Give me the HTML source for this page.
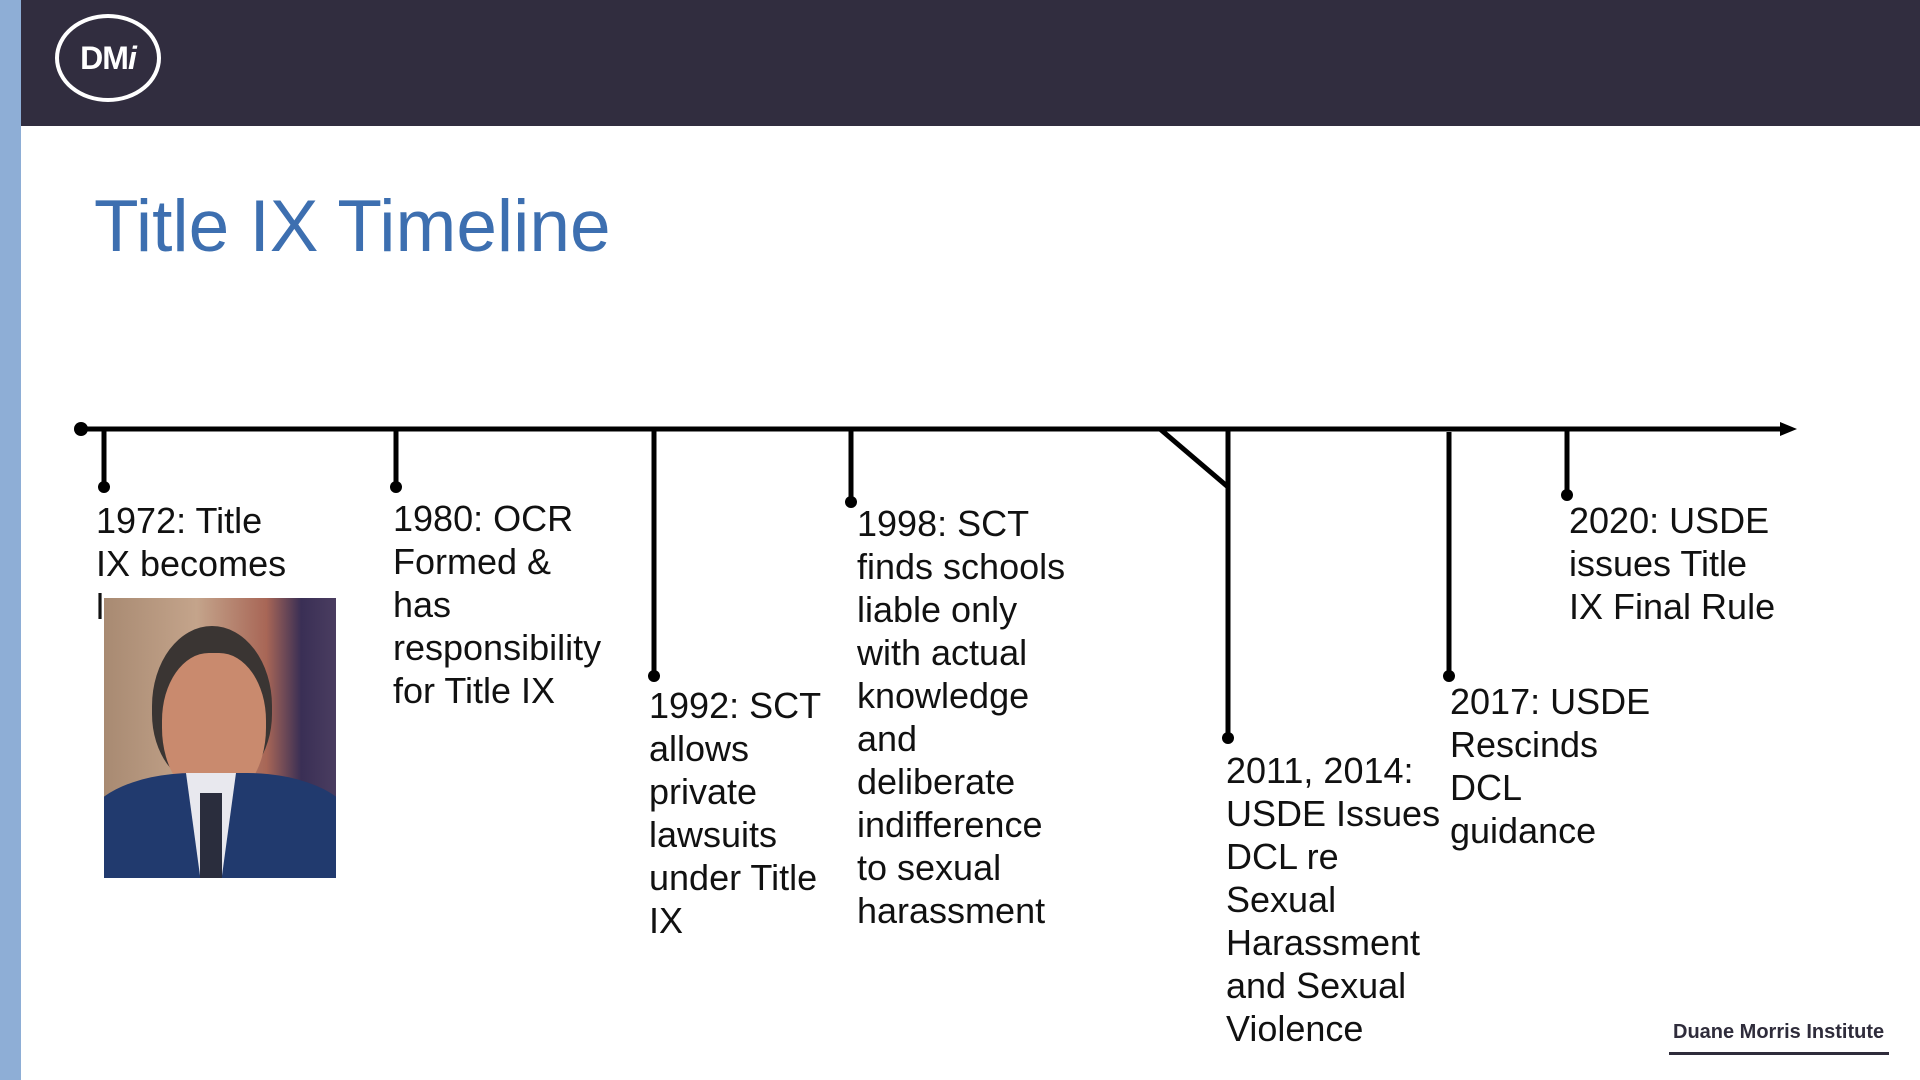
<!DOCTYPE html>
<html><head><meta charset="utf-8"><style>
*{margin:0;padding:0}
body{width:1920px;height:1080px;position:relative;background:#fff;overflow:hidden;font-family:"Liberation Sans",Arial,sans-serif}
.t{position:absolute;font-size:36px;line-height:43px;color:#111;white-space:nowrap;letter-spacing:0}
</style></head><body>
<div style="position:absolute;left:0;top:0;width:21px;height:1080px;background:#8eaed6"></div>
<div style="position:absolute;left:21px;top:0;width:1899px;height:126px;background:#312d3f"></div>
<div style="position:absolute;left:55px;top:14px;width:98px;height:80px;border:4px solid #fff;border-radius:50%;color:#fff;font-weight:bold;font-size:32px;line-height:80px;text-align:center;letter-spacing:-1px">DM<i>i</i></div>
<div style="position:absolute;left:94px;top:182px;font-size:73px;line-height:90px;color:#3d6fb0">Title IX Timeline</div>

<svg width="1920" height="1080" style="position:absolute;left:0;top:0" stroke="#000" stroke-width="5" fill="#000">
<line x1="81" y1="429" x2="1780" y2="429"/>
<polygon points="1780,422 1797,429 1780,436" stroke="none"/>
<circle cx="81" cy="429" r="7" stroke="none"/>
<line x1="104" y1="429" x2="104" y2="487"/><circle cx="104" cy="487" r="6" stroke="none"/>
<line x1="396" y1="429" x2="396" y2="487"/><circle cx="396" cy="487" r="6" stroke="none"/>
<line x1="654" y1="429" x2="654" y2="676"/><circle cx="654" cy="676" r="6" stroke="none"/>
<line x1="851" y1="429" x2="851" y2="502"/><circle cx="851" cy="502" r="6" stroke="none"/>
<line x1="1228" y1="429" x2="1228" y2="738"/><circle cx="1228" cy="738" r="6" stroke="none"/>
<line x1="1160" y1="429" x2="1228" y2="487"/>
<line x1="1449" y1="432" x2="1449" y2="676"/><circle cx="1449" cy="676" r="6" stroke="none"/>
<line x1="1567" y1="429" x2="1567" y2="495"/><circle cx="1567" cy="495" r="6" stroke="none"/>
</svg>

<div class="t" style="left:96px;top:499px">1972: Title<br>IX becomes<br>law</div>
<div style="position:absolute;left:104px;top:598px;width:232px;height:280px;overflow:hidden;background:linear-gradient(90deg,#a88a72 0%,#c4a48b 40%,#a86656 70%,#3a2f55 85%,#4a3d60 100%)">
  <div style="position:absolute;left:48px;top:28px;width:120px;height:160px;border-radius:50% 50% 45% 45%;background:#3a3533"></div>
  <div style="position:absolute;left:58px;top:55px;width:104px;height:150px;border-radius:45% 45% 50% 50%;background:#c98a6e"></div>
  <div style="position:absolute;left:-20px;top:175px;width:272px;height:140px;border-radius:40% 40% 0 0;background:#213a6e"></div>
  <div style="position:absolute;left:82px;top:175px;width:50px;height:110px;background:#e8e8ee;clip-path:polygon(0 0,100% 0,70% 100%,30% 100%)"></div>
  <div style="position:absolute;left:96px;top:195px;width:22px;height:90px;background:#2a2d3d"></div>
</div>
<div class="t" style="left:393px;top:497px">1980: OCR<br>Formed &amp;<br>has<br>responsibility<br>for Title IX</div>
<div class="t" style="left:649px;top:684px">1992: SCT<br>allows<br>private<br>lawsuits<br>under Title<br>IX</div>
<div class="t" style="left:857px;top:502px">1998: SCT<br>finds schools<br>liable only<br>with actual<br>knowledge<br>and<br>deliberate<br>indifference<br>to sexual<br>harassment</div>
<div class="t" style="left:1226px;top:749px">2011, 2014:<br>USDE Issues<br>DCL re<br>Sexual<br>Harassment<br>and Sexual<br>Violence</div>
<div class="t" style="left:1450px;top:680px">2017: USDE<br>Rescinds<br>DCL<br>guidance</div>
<div class="t" style="left:1569px;top:499px">2020: USDE<br>issues Title<br>IX Final Rule</div>

<div style="position:absolute;left:1673px;top:1020px;font-size:20px;font-weight:bold;color:#2f2c3b;line-height:24px;white-space:nowrap">Duane Morris Institute</div>
<div style="position:absolute;left:1669px;top:1052px;width:220px;height:3px;background:#2f2c3b"></div>
</body></html>
